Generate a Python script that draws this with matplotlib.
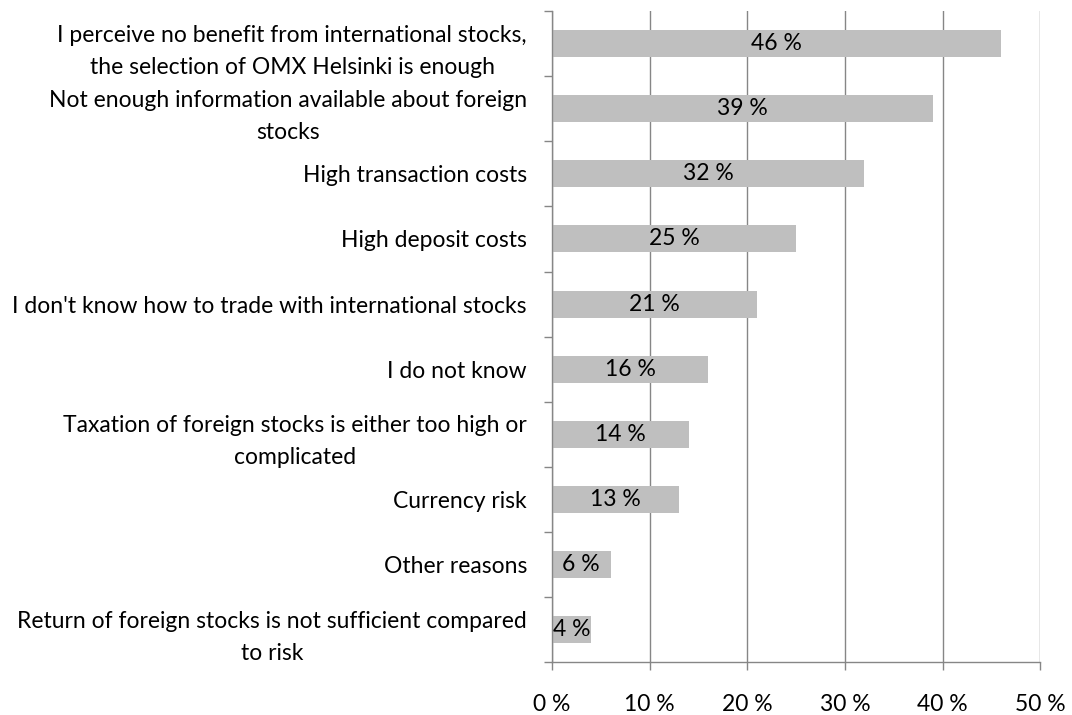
import numpy as np
import matplotlib
matplotlib.use("Agg")
import matplotlib.pyplot as plt

plt.rcParams['font.family'] = ['Lato', 'DejaVu Sans']

reasons = [
    "I perceive no benefit from international stocks,\nthe selection of OMX Helsinki is enough",
    "Not enough information available about foreign\nstocks",
    "High transaction costs",
    "High deposit costs",
    "I don't know how to trade with international stocks",
    "I do not know",
    "Taxation of foreign stocks is either too high or\ncomplicated",
    "Currency risk",
    "Other reasons",
    "Return of foreign stocks is not sufficient compared\nto risk",
]
shares = [46, 39, 32, 25, 21, 16, 14, 13, 6, 4]
xticks = [0, 10, 20, 30, 40, 50]

axis_grey = "#868686"
fs = 16.5

fig = plt.figure(figsize=(10.72, 7.15), dpi=100)
ax = fig.add_axes([0.5149, 0.0737, 0.4555, 0.9109])

y = np.arange(len(reasons))
bars = ax.barh(y, shares, height=0.415, color="#bfbfbf", zorder=2)
for b, v in zip(bars, shares):
    ax.text(b.get_width() / 2, b.get_y() + b.get_height() / 2, f"{v} %",
            ha="center", va="center", fontsize=fs, color="black", zorder=3)

ax.set_xlim(0, 50)
ax.set_ylim(len(reasons) - 0.5, -0.5)
ax.set_xticks(xticks)
ax.set_xticklabels([f"{t} %" for t in xticks])
ax.xaxis.grid(True, color=axis_grey, linewidth=1, zorder=1)

# labels at bar centres, tick marks at category boundaries
ax.set_yticks(y)
ax.set_yticklabels(reasons, multialignment="center", linespacing=1.65)
ax.set_yticks(np.arange(len(reasons) + 1) - 0.5, minor=True)
ax.tick_params(axis="y", which="major", length=0, pad=18, labelsize=fs)
ax.tick_params(axis="y", which="minor", length=6, width=1, color=axis_grey)
ax.tick_params(axis="x", length=6, width=1, color=axis_grey, pad=17, labelsize=fs)

for side in ["top", "right"]:
    ax.spines[side].set_visible(False)
for side in ["left", "bottom"]:
    ax.spines[side].set_color(axis_grey)
    ax.spines[side].set_linewidth(1)

fig.savefig("out.png", dpi=100)
